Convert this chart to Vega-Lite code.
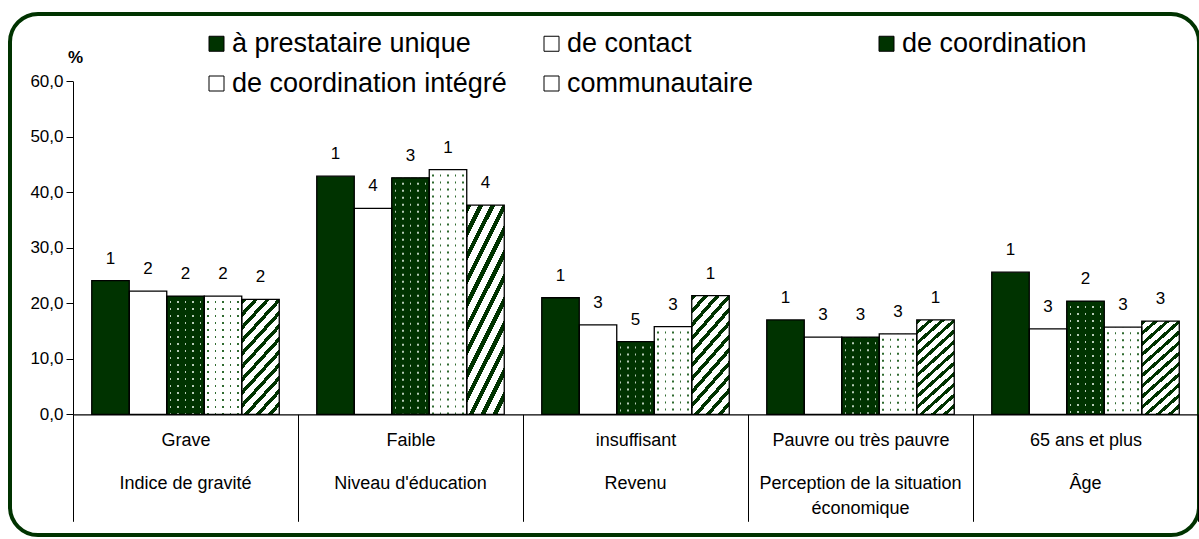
{
  "$schema": "https://vega.github.io/schema/vega-lite/v6.json",
  "width": 1189,
  "height": 521,
  "autosize": {"type": "none"},
  "padding": {"left": 10, "top": 14, "right": 0, "bottom": 4},
  "background": "white",
  "config": {
    "font": "Liberation Sans",
    "view": {"stroke": "#003300", "strokeWidth": 4, "cornerRadius": 28, "fill": "white"}
  },
  "data": {
    "values": [
      {"cat": "Grave|Indice de gravité", "type": "à prestataire unique", "value": 24.1, "rank": "1"},
      {"cat": "Grave|Indice de gravité", "type": "de contact", "value": 22.2, "rank": "2"},
      {"cat": "Grave|Indice de gravité", "type": "de coordination", "value": 21.3, "rank": "2"},
      {"cat": "Grave|Indice de gravité", "type": "de coordination intégré", "value": 21.3, "rank": "2"},
      {"cat": "Grave|Indice de gravité", "type": "communautaire", "value": 20.7, "rank": "2"},
      {"cat": "Faible|Niveau d'éducation", "type": "à prestataire unique", "value": 42.9, "rank": "1"},
      {"cat": "Faible|Niveau d'éducation", "type": "de contact", "value": 37.1, "rank": "4"},
      {"cat": "Faible|Niveau d'éducation", "type": "de coordination", "value": 42.6, "rank": "3"},
      {"cat": "Faible|Niveau d'éducation", "type": "de coordination intégré", "value": 44.1, "rank": "1"},
      {"cat": "Faible|Niveau d'éducation", "type": "communautaire", "value": 37.7, "rank": "4"},
      {"cat": "insuffisant|Revenu", "type": "à prestataire unique", "value": 21.0, "rank": "1"},
      {"cat": "insuffisant|Revenu", "type": "de contact", "value": 16.1, "rank": "3"},
      {"cat": "insuffisant|Revenu", "type": "de coordination", "value": 13.1, "rank": "5"},
      {"cat": "insuffisant|Revenu", "type": "de coordination intégré", "value": 15.8, "rank": "3"},
      {"cat": "insuffisant|Revenu", "type": "communautaire", "value": 21.4, "rank": "1"},
      {"cat": "Pauvre ou très pauvre|Perception de la situation économique", "type": "à prestataire unique", "value": 17.0, "rank": "1"},
      {"cat": "Pauvre ou très pauvre|Perception de la situation économique", "type": "de contact", "value": 13.9, "rank": "3"},
      {"cat": "Pauvre ou très pauvre|Perception de la situation économique", "type": "de coordination", "value": 13.9, "rank": "3"},
      {"cat": "Pauvre ou très pauvre|Perception de la situation économique", "type": "de coordination intégré", "value": 14.5, "rank": "3"},
      {"cat": "Pauvre ou très pauvre|Perception de la situation économique", "type": "communautaire", "value": 17.0, "rank": "1"},
      {"cat": "65 ans et plus|Âge", "type": "à prestataire unique", "value": 25.6, "rank": "1"},
      {"cat": "65 ans et plus|Âge", "type": "de contact", "value": 15.4, "rank": "3"},
      {"cat": "65 ans et plus|Âge", "type": "de coordination", "value": 20.4, "rank": "2"},
      {"cat": "65 ans et plus|Âge", "type": "de coordination intégré", "value": 15.7, "rank": "3"},
      {"cat": "65 ans et plus|Âge", "type": "communautaire", "value": 16.8, "rank": "3"}
    ]
  },
  "resolve": {"axis": {"x": "independent"}},
  "encoding": {
    "x": {
      "field": "cat", "type": "nominal", "sort": null,
      "scale": {
        "domain": ["Grave|Indice de gravité", "Faible|Niveau d'éducation", "insuffisant|Revenu", "Pauvre ou très pauvre|Perception de la situation économique", "65 ans et plus|Âge"],
        "range": [63, 1188], "paddingInner": 0, "paddingOuter": 0
      },
      "axis": null
    },
    "xOffset": {
      "field": "type", "type": "nominal", "sort": null,
      "scale": {
        "domain": ["à prestataire unique", "de contact", "de coordination", "de coordination intégré", "communautaire"],
        "paddingInner": 0, "paddingOuter": 0.5
      }
    },
    "y": {
      "field": "value", "type": "quantitative",
      "scale": {"domain": [0, 60], "range": [400.3, 67.3], "nice": false},
      "axis": {
        "title": "%", "titleAngle": 0, "titleX": 2, "titleY": 43, "titleAlign": "center", "titleBaseline": "middle",
        "titleFontWeight": "bold", "titleFontSize": 17, "titleColor": "black",
        "orient": "left", "offset": -63, "values": [0, 10, 20, 30, 40, 50, 60],
        "labelExpr": "replace(format(datum.value, '.1f'), '.', ',')",
        "labelFontSize": 17, "labelColor": "black", "labelPadding": 3,
        "tickColor": "black", "tickSize": 7, "domainColor": "black", "grid": false
      }
    }
  },
  "layer": [
    {
      "mark": {"type": "bar"},
      "encoding": {
        "x": {
          "field": "cat", "type": "nominal", "sort": null,
          "axis": {
            "title": null, "orient": "bottom", "offset": -120.7,
            "tickBand": "extent", "tickSize": 107, "tickColor": "black", "tickWidth": 1,
            "domainColor": "black", "domainWidth": 1.2,
            "labelAngle": 0, "labelFontSize": 18, "labelColor": "black",
            "labelPadding": -90, "labelBaseline": "top", "labelLimit": 0,
            "labelExpr": "split(datum.label, '|')[0]"
          }
        },
        "fill": {
          "field": "type", "type": "nominal", "sort": null,
          "scale": {
            "domain": ["à prestataire unique", "de contact", "de coordination", "de coordination intégré", "communautaire"],
            "range": ["#003300", "#ffffff", "#003300", "#ffffff", "#ffffff"]
          },
          "legend": {
            "title": null, "orient": "none", "legendX": 193, "legendY": 16, "padding": 0,
            "direction": "horizontal", "columns": 3, "columnPadding": 31, "rowPadding": 12, "gridAlign": "all",
            "symbolType": "square", "symbolSize": 225, "symbolStrokeColor": "black", "symbolStrokeWidth": 1,
            "labelFontSize": 27, "labelOffset": 2, "labelColor": "black", "labelLimit": 0,
            "encode": {
              "symbols": {
                "update": {
                  "stroke": {"value": "black"},
                  "strokeWidth": {"value": 1},
                  "opacity": {"value": 1},
                  "fill": {"signal": "datum.value === 'communautaire' ? {gradient: 'linear', x1: 0, y1: 0, x2: 1, y2: 1, stops: [{offset: 0, color: '#ffffff'}, {offset: 0.38, color: '#ffffff'}, {offset: 0.38, color: '#003300'}, {offset: 0.62, color: '#003300'}, {offset: 0.62, color: '#ffffff'}, {offset: 1, color: '#ffffff'}]} : scale('fill', datum.value)"}
                }
              }
            }
          }
        }
      }
    },
    {
      "transform": [{"filter": "datum.type === 'de coordination'"}],
      "mark": {"type": "bar", "fill": {"gradient": "linear", "x1": 0, "y1": 0, "x2": 1, "y2": 0, "stops": [
        {"offset": 0, "color": "#003300"}, {"offset": 0.075, "color": "#003300"}, {"offset": 0.075, "color": "#b8ccb8"}, {"offset": 0.125, "color": "#b8ccb8"},
        {"offset": 0.125, "color": "#003300"}, {"offset": 0.275, "color": "#003300"}, {"offset": 0.275, "color": "#b8ccb8"}, {"offset": 0.325, "color": "#b8ccb8"},
        {"offset": 0.325, "color": "#003300"}, {"offset": 0.475, "color": "#003300"}, {"offset": 0.475, "color": "#b8ccb8"}, {"offset": 0.525, "color": "#b8ccb8"},
        {"offset": 0.525, "color": "#003300"}, {"offset": 0.675, "color": "#003300"}, {"offset": 0.675, "color": "#b8ccb8"}, {"offset": 0.725, "color": "#b8ccb8"},
        {"offset": 0.725, "color": "#003300"}, {"offset": 0.875, "color": "#003300"}, {"offset": 0.875, "color": "#b8ccb8"}, {"offset": 0.925, "color": "#b8ccb8"},
        {"offset": 0.925, "color": "#003300"}, {"offset": 1, "color": "#003300"}
      ]}}
    },
    {
      "transform": [{"filter": "datum.type === 'de coordination'"}],
      "mark": {"type": "rule", "stroke": "#003300", "strokeWidth": 37.5, "strokeDash": [5, 2]},
      "encoding": {"y2": {"datum": 0}}
    },
    {
      "transform": [{"filter": "datum.type === 'de coordination intégré'"}],
      "mark": {"type": "bar", "fill": {"gradient": "linear", "x1": 0, "y1": 0, "x2": 1, "y2": 0, "stops": [
        {"offset": 0, "color": "#ffffff"}, {"offset": 0.075, "color": "#ffffff"}, {"offset": 0.075, "color": "#2f6a2f"}, {"offset": 0.125, "color": "#2f6a2f"},
        {"offset": 0.125, "color": "#ffffff"}, {"offset": 0.275, "color": "#ffffff"}, {"offset": 0.275, "color": "#2f6a2f"}, {"offset": 0.325, "color": "#2f6a2f"},
        {"offset": 0.325, "color": "#ffffff"}, {"offset": 0.475, "color": "#ffffff"}, {"offset": 0.475, "color": "#2f6a2f"}, {"offset": 0.525, "color": "#2f6a2f"},
        {"offset": 0.525, "color": "#ffffff"}, {"offset": 0.675, "color": "#ffffff"}, {"offset": 0.675, "color": "#2f6a2f"}, {"offset": 0.725, "color": "#2f6a2f"},
        {"offset": 0.725, "color": "#ffffff"}, {"offset": 0.875, "color": "#ffffff"}, {"offset": 0.875, "color": "#2f6a2f"}, {"offset": 0.925, "color": "#2f6a2f"},
        {"offset": 0.925, "color": "#ffffff"}, {"offset": 1, "color": "#ffffff"}
      ]}}
    },
    {
      "transform": [{"filter": "datum.type === 'de coordination intégré'"}],
      "mark": {"type": "rule", "stroke": "#ffffff", "strokeWidth": 37.5, "strokeDash": [5, 2]},
      "encoding": {"y2": {"datum": 0}}
    },
    {
      "transform": [{"filter": "datum.type === 'communautaire'"}],
      "mark": {"type": "bar", "fill": {"gradient": "linear", "x1": 0, "y1": 0, "x2": 0.43, "y2": 1.2036, "stops": [
        {"offset": 0, "color": "#003300"}, {"offset": 0.0333, "color": "#003300"}, {"offset": 0.0333, "color": "#ffffff"}, {"offset": 0.0833, "color": "#ffffff"},
        {"offset": 0.0833, "color": "#003300"}, {"offset": 0.1167, "color": "#003300"}, {"offset": 0.1167, "color": "#ffffff"}, {"offset": 0.1667, "color": "#ffffff"},
        {"offset": 0.1667, "color": "#003300"}, {"offset": 0.2, "color": "#003300"}, {"offset": 0.2, "color": "#ffffff"}, {"offset": 0.25, "color": "#ffffff"},
        {"offset": 0.25, "color": "#003300"}, {"offset": 0.2833, "color": "#003300"}, {"offset": 0.2833, "color": "#ffffff"}, {"offset": 0.3333, "color": "#ffffff"},
        {"offset": 0.3333, "color": "#003300"}, {"offset": 0.3667, "color": "#003300"}, {"offset": 0.3667, "color": "#ffffff"}, {"offset": 0.4167, "color": "#ffffff"},
        {"offset": 0.4167, "color": "#003300"}, {"offset": 0.45, "color": "#003300"}, {"offset": 0.45, "color": "#ffffff"}, {"offset": 0.5, "color": "#ffffff"},
        {"offset": 0.5, "color": "#003300"}, {"offset": 0.5333, "color": "#003300"}, {"offset": 0.5333, "color": "#ffffff"}, {"offset": 0.5833, "color": "#ffffff"},
        {"offset": 0.5833, "color": "#003300"}, {"offset": 0.6167, "color": "#003300"}, {"offset": 0.6167, "color": "#ffffff"}, {"offset": 0.6667, "color": "#ffffff"},
        {"offset": 0.6667, "color": "#003300"}, {"offset": 0.7, "color": "#003300"}, {"offset": 0.7, "color": "#ffffff"}, {"offset": 0.75, "color": "#ffffff"},
        {"offset": 0.75, "color": "#003300"}, {"offset": 0.7833, "color": "#003300"}, {"offset": 0.7833, "color": "#ffffff"}, {"offset": 0.8333, "color": "#ffffff"},
        {"offset": 0.8333, "color": "#003300"}, {"offset": 0.8667, "color": "#003300"}, {"offset": 0.8667, "color": "#ffffff"}, {"offset": 0.9167, "color": "#ffffff"},
        {"offset": 0.9167, "color": "#003300"}, {"offset": 0.95, "color": "#003300"}, {"offset": 0.95, "color": "#ffffff"}, {"offset": 1, "color": "#ffffff"}
      ]}}
    },
    {
      "mark": {"type": "bar", "fill": "#ffffff", "fillOpacity": 0, "stroke": "black", "strokeWidth": 1.3}
    },
    {
      "mark": {"type": "text", "dy": -22, "fontSize": 17, "baseline": "middle", "color": "black"},
      "encoding": {
        "x": {
          "field": "cat", "type": "nominal", "sort": null,
          "axis": {
            "title": null, "orient": "bottom", "offset": -120.7,
            "ticks": false, "tickSize": 0, "domain": false,
            "labelAngle": 0, "labelFontSize": 18, "labelColor": "black",
            "labelPadding": 60, "labelLineHeight": 25.6, "labelBaseline": "top", "labelLimit": 0,
            "labelExpr": "split(replace(split(datum.label, '|')[1], 'situation ', 'situation|'), '|')"
          }
        },
        "text": {"field": "rank", "type": "nominal"}
      }
    }
  ]
}
